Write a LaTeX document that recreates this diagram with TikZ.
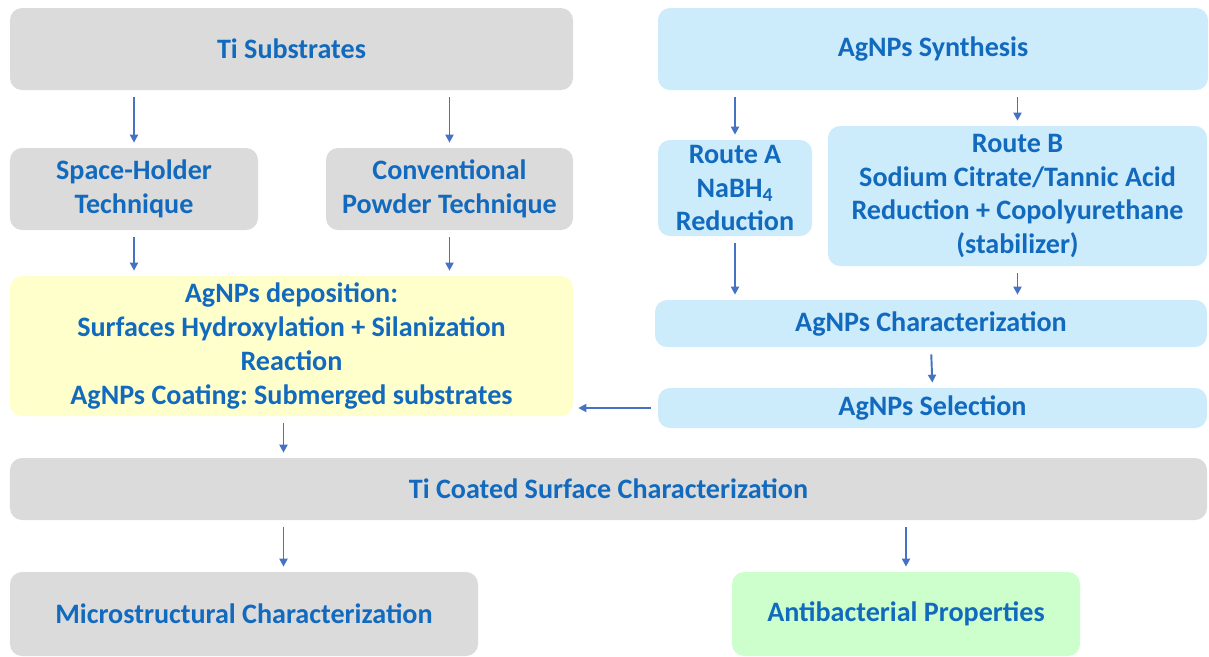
\documentclass[tikz,border=0pt]{standalone}
\usepackage{fontspec}
\setmainfont{Carlito}
\usepackage{xcolor}
\usepackage{tikz}
\usetikzlibrary{arrows.meta}
\frenchspacing

\definecolor{txtblue}{RGB}{18,106,190}
\definecolor{arrblue}{RGB}{68,114,196}
\definecolor{boxgray}{RGB}{219,219,219}
\definecolor{boxblue}{RGB}{204,235,251}
\definecolor{boxyellow}{RGB}{255,255,204}
\definecolor{boxgreen}{RGB}{204,255,204}

\begin{document}
\begin{tikzpicture}[
    stage/.style={rounded corners=0.24cm, inner sep=0pt, align=center,
        text=txtblue, font=\bfseries\fontsize{16}{19.3}\selectfont},
    grey/.style={stage, fill=boxgray},
    blue/.style={stage, fill=boxblue},
    flow/.style={-{Triangle[length=1.6mm,width=1.6mm]}, line width=1.1pt,
        draw=arrblue, shorten <=0.14cm, shorten >=0.1cm}
  ]
    \useasboundingbox (0,0) rectangle (24.18,-13.12);

    % Ti branch
    \node[grey, minimum width=11.26cm, minimum height=1.64cm] (tisub) at (5.83,-0.98) {Ti Substrates};
    \node[grey, minimum width=4.96cm, minimum height=1.64cm] (shold) at (2.68,-3.78) {Space-Holder\\Technique};
    \node[grey, minimum width=4.94cm, minimum height=1.64cm] (conv) at (8.99,-3.78) {Conventional\\Powder Technique};
    \node[stage, fill=boxyellow, minimum width=11.26cm, minimum height=2.8cm] (depo) at (5.83,-6.92)
        {AgNPs deposition:\\Surfaces Hydroxylation + Silanization\\Reaction\\AgNPs Coating: Submerged substrates};

    % AgNPs branch
    \node[blue, minimum width=11.0cm, minimum height=1.64cm] (synth) at (18.66,-0.98) {AgNPs Synthesis};
    \node[blue, minimum width=3.08cm, minimum height=1.92cm] (routeA) at (14.7,-3.76) {Route A\\NaBH\textsubscript{4}\\Reduction};
    \node[blue, minimum width=7.58cm, minimum height=2.8cm] (routeB) at (20.35,-3.92)
        {Route B\\Sodium Citrate/Tannic Acid\\Reduction + Copolyurethane\\(stabilizer)};
    \node[blue, minimum width=11.04cm, minimum height=0.94cm] (achar) at (18.62,-6.47) {AgNPs Characterization};
    \node[blue, minimum width=10.98cm, minimum height=0.8cm] (asel) at (18.65,-8.16) {AgNPs Selection};

    % Characterization row
    \node[grey, minimum width=23.94cm, minimum height=1.24cm] (ticoat) at (12.17,-9.78) {Ti Coated Surface Characterization};
    \node[grey, minimum width=9.36cm, minimum height=1.68cm] (micro) at (4.88,-12.28) {Microstructural Characterization};
    \node[stage, fill=boxgreen, minimum width=6.96cm, minimum height=1.68cm] (antib) at (18.12,-12.28) {Antibacterial Properties};

    % Arrows, Ti side
    \draw[flow] (tisub.south -| shold.north) -- (shold.north);
    \draw[flow] (tisub.south -| conv.north) -- (conv.north);
    \draw[flow] (shold.south) -- (shold.south |- depo.north);
    \draw[flow] (conv.south) -- (conv.south |- depo.north);

    % Arrows, AgNPs side
    \draw[flow] (synth.south -| routeA.north) -- (routeA.north);
    \draw[flow] (synth.south -| routeB.north) -- (routeB.north);
    \draw[flow] (routeA.south) -- (routeA.south |- achar.north);
    \draw[flow] (routeB.south) -- (routeB.south |- achar.north);
    \draw[flow] (achar.south) -- (asel.north);
    \draw[flow] (asel.west) -- (asel.west -| depo.east);

    % Arrows to and from the coated surface
    \coordinate (split) at ([xshift=-0.16cm]depo.south);
    \draw[flow] (split) -- (split |- ticoat.north);
    \draw[flow] (ticoat.south -| split) -- (micro.north -| split);
    \draw[flow] (ticoat.south -| antib.north) -- (antib.north);
  \end{tikzpicture}
\end{document}
